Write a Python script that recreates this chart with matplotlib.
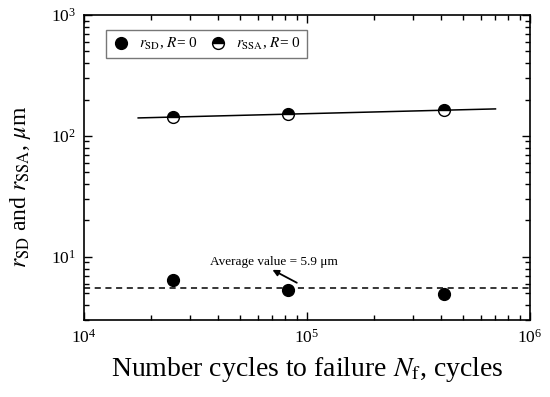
import numpy as np
import matplotlib
matplotlib.use("Agg")
import matplotlib.pyplot as plt

plt.rcParams["font.family"] = ["Liberation Serif", "DejaVu Serif"]
plt.rcParams["mathtext.fontset"] = "stix"

# Data
cycles = [2.5e4, 8.2e4, 4.1e5]
r_sd = [6.4, 5.3, 4.9]
r_ssa = [143, 152, 163]
fit_range = [1.75e4, 7.0e5]

# power-law trend through the SSA points
slope, icpt = np.polyfit(np.log10(cycles), np.log10(r_ssa), 1)
xf = np.logspace(np.log10(fit_range[0]), np.log10(fit_range[1]), 50)
yf = 10 ** (icpt + slope * np.log10(xf))
avg_sd = np.mean(r_sd)

fig = plt.figure(figsize=(5.5, 3.97), dpi=100)
ax = fig.add_axes([0.1527, 0.194, 0.811, 0.768])

ax.plot(xf, yf, color="black", lw=1.1, zorder=2)
ax.axhline(avg_sd, color="black", lw=1.1, ls=(0, (4, 3)), zorder=1)
ax.plot(cycles, r_sd, "o", ms=8.5, color="black", ls="none",
        label=r"$r_{\rm SD}$, $R$= 0", zorder=3)
ax.plot(cycles, r_ssa, "o", ms=8.5, ls="none", markerfacecolor="black",
        markerfacecoloralt="white", markeredgecolor="black", mew=1.0,
        fillstyle="top", label=r"$r_{\rm SSA}$, $R$= 0", zorder=3)

ax.text(7.1e4, 9.1, "Average value = 5.9 \u03bcm", fontsize=9.5,
        ha="center", va="center")
ax.annotate("", xy=(7.0e4, 7.8), xytext=(9.0e4, 6.1),
            arrowprops=dict(arrowstyle="-|>", color="black", lw=1.3,
                            mutation_scale=9, shrinkA=0, shrinkB=0))

ax.set_xscale("log")
ax.set_yscale("log")
ax.set_xlim(1e4, 1e6)
ax.set_ylim(3, 1000)

ax.tick_params(which="both", direction="in", top=True, right=True,
               labelsize=12.5, width=1)
ax.tick_params(which="major", length=6, pad=6)
ax.tick_params(which="minor", length=3.5)
for s in ax.spines.values():
    s.set_linewidth(1.2)

ax.set_xlabel(r"Number cycles to failure $N_{\rm f}$, cycles", fontsize=20, labelpad=6)
ax.set_ylabel(r"$r_{\rm SD}$ and $r_{\rm SSA}$, $\mu$m", fontsize=17)
ax.yaxis.set_label_coords(-0.115, 0.436)

leg = ax.legend(loc="upper left", ncol=2, fontsize=11, frameon=True, fancybox=False,
                edgecolor="#555555", handletextpad=0.6, columnspacing=0.7,
                borderpad=0.4, handlelength=1.2, borderaxespad=0,
                bbox_to_anchor=(0.049, 0.951))
leg.get_frame().set_linewidth(1.0)

fig.savefig("out.png", dpi=100)
